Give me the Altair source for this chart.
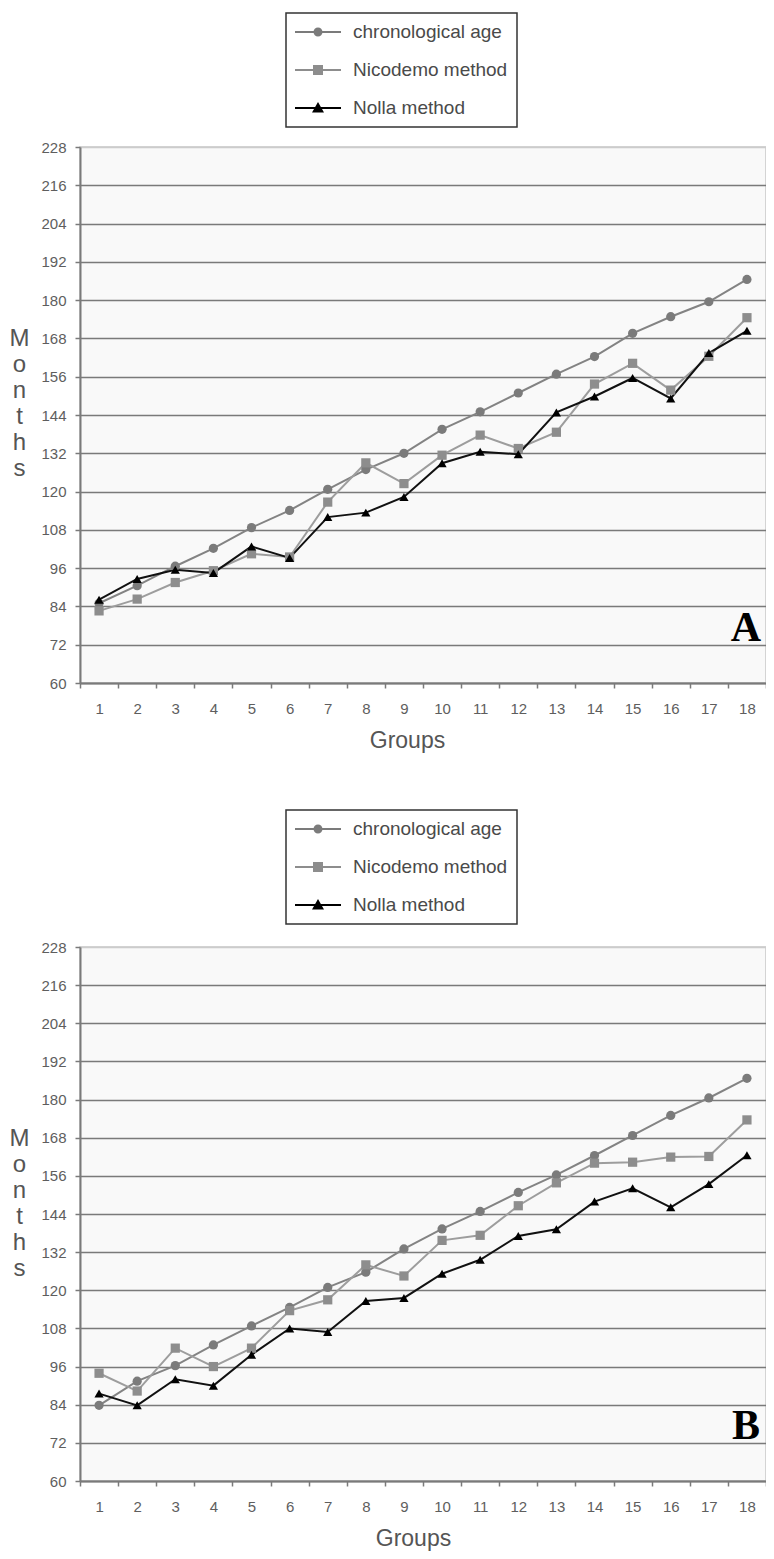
import altair as alt
import pandas as pd

# ---------------- data ----------------
GROUPS = list(range(1, 19))
SERIES = ["chronological age", "Nicodemo method", "Nolla method"]

A_CHRONO = [85.0, 90.5, 96.6, 102.2, 108.7, 114.1, 120.7, 126.9, 132.0, 139.5,
            145.0, 150.9, 156.8, 162.3, 169.6, 174.8, 179.5, 186.5]
A_NICODEMO = [82.6, 86.3, 91.5, 95.2, 100.5, 99.5, 116.7, 129.0, 122.5, 131.4,
              137.7, 133.5, 138.6, 153.7, 160.2, 151.8, 162.4, 174.5]
A_NOLLA = [86.1, 92.6, 95.5, 94.5, 102.8, 99.2, 112.0, 113.4, 118.3, 128.9,
           132.5, 131.7, 144.8, 149.8, 155.6, 149.2, 163.4, 170.4]

B_CHRONO = [83.8, 91.4, 96.3, 102.8, 108.8, 114.6, 120.9, 125.7, 133.0, 139.3,
            144.8, 150.8, 156.3, 162.4, 168.7, 175.0, 180.5, 186.7]
B_NICODEMO = [93.9, 88.3, 101.8, 96.0, 101.8, 113.6, 117.0, 128.0, 124.5, 135.7,
              137.3, 146.6, 153.8, 160.0, 160.3, 161.9, 162.1, 173.6]
B_NOLLA = [87.5, 83.8, 92.0, 90.0, 99.7, 108.0, 106.9, 116.6, 117.6, 125.2,
           129.6, 137.1, 139.2, 147.9, 152.1, 146.1, 153.4, 162.5]

Y_TICKS = [60, 72, 84, 96, 108, 120, 132, 144, 156, 168, 180, 192, 204, 216, 228]
PANEL_LABELS = ["A", "B"]
Y_TITLE = ["M", "o", "n", "t", "h", "s"]
X_TITLE = "Groups"

# ---------------- styles ----------------
FONT = "Liberation Sans"
LINE_COLORS = ["#838383", "#9d9d9d", "#111111"]
POINT_COLORS = ["#7b7b7b", "#8d8d8d", "#000000"]
SHAPES = ["circle", "square", "triangle-up"]

# legend symbols: a short line with the marker on it (unit coords, r = sqrt(size)/2 = 10px)
_LINE = "M-2.3,-0.1H2.3V0.1H-2.3Z"
LEGEND_PATHS = [
    _LINE + " M0.45,0A0.45,0.45 0 1,1 -0.45,0A0.45,0.45 0 1,1 0.45,0Z",
    _LINE + " M-0.5,-0.5H0.5V0.5H-0.5Z",
    _LINE + " M0,-0.6L0.6,0.45H-0.6Z",
]
SHAPE_EXPR = "'" + LEGEND_PATHS[-1] + "'"
for name, path in reversed(list(zip(SERIES[:-1], LEGEND_PATHS[:-1]))):
    SHAPE_EXPR = "datum.value === '" + name + "' ? '" + path + "' : (" + SHAPE_EXPR + ")"


def long_table(chrono, nico, nolla):
    rows = []
    for name, vals in zip(SERIES, [chrono, nico, nolla]):
        for g, v in zip(GROUPS, vals):
            rows.append({"series": name, "group": g, "months": v})
    return pd.DataFrame(rows)


def panel(df, label, w, h, lx, ly, ytx, yty, xtx, xty, tx, ty):
    x = alt.X(
        "group:O",
        title=X_TITLE,
        scale=alt.Scale(type="band", paddingInner=0, paddingOuter=0),
        axis=alt.Axis(
            tickBand="extent", labelAngle=0, grid=False,
            labelPadding=13, tickSize=5,
            titleX=xtx, titleY=xty, titleAlign="center", titleBaseline="alphabetic",
            titleFontSize=23,
        ),
    )
    y = alt.Y(
        "months:Q",
        title=Y_TITLE,
        scale=alt.Scale(domain=[60, 228], nice=False, zero=False),
        axis=alt.Axis(
            values=Y_TICKS, grid=True, labelPadding=9, tickSize=5,
            titleAngle=0, titleX=ytx, titleY=yty, titleAlign="center",
            titleBaseline="alphabetic", titleLineHeight=26, titleFontSize=24,
            gridColor={"condition": {"test": "datum.value === 228", "value": "#cccccc"},
                       "value": "#7a7a7a"},
        ),
    )
    legend = alt.Legend(
        title=None, orient="none", legendX=lx, legendY=ly, direction="vertical",
        labelFont=FONT, labelFontSize=19, labelColor="#4a4a4a", labelLimit=400,
        symbolType=alt.ExprRef(SHAPE_EXPR),
        symbolSize=400, symbolStrokeWidth=0, symbolOffset=13, labelOffset=25,
        rowPadding=18, padding=9, strokeColor="#333333", fillColor="#ffffff",
    )
    lines = alt.Chart(df).mark_line(strokeWidth=2).encode(
        x=x, y=y,
        stroke=alt.Stroke("series:N", sort=SERIES,
                          scale=alt.Scale(range=LINE_COLORS), legend=None),
    )
    points = alt.Chart(df).mark_point(filled=True, opacity=1, size=85).encode(
        x=x, y=y,
        color=alt.Color("series:N", scale=alt.Scale(domain=SERIES, range=POINT_COLORS),
                        legend=legend),
        shape=alt.Shape("series:N", sort=SERIES, scale=alt.Scale(range=SHAPES),
                        legend=None),
    )
    txt = alt.Chart(pd.DataFrame({"panel": [label]})).mark_text(
        align="right", baseline="alphabetic", font="Liberation Serif",
        fontWeight="bold", fontSize=42, color="#000000",
    ).encode(x=alt.value(tx), y=alt.value(ty), text="panel:N")
    return alt.layer(lines, points, txt).properties(width=w, height=h)


dfA = long_table(A_CHRONO, A_NICODEMO, A_NOLLA)
dfB = long_table(B_CHRONO, B_NICODEMO, B_NOLLA)

chartA = panel(dfA, PANEL_LABELS[0], 686, 536, 206, -134, -61, 198, 327, 64, 681, 494)
chartB = panel(dfB, PANEL_LABELS[1], 686, 534, 206, -137, -61, 198, 333, 64, 680, 492)

chart = (
    alt.vconcat(chartA, chartB, spacing=55)
    .resolve_legend(color="independent", shape="independent", stroke="independent")
    .properties(padding={"left": 0, "top": 3, "right": -2, "bottom": 0})
    .configure_view(fill="#f9f9f9", stroke="#c8c8c8", strokeWidth=1.5)
    .configure_legend(strokeWidth=1.5)
    .configure_axis(
        domainColor="#7a7a7a", domainWidth=2, tickColor="#7a7a7a", tickWidth=1.5,
        gridWidth=1.5, labelFont=FONT, labelFontSize=15, labelColor="#5e5e5e",
        titleFont=FONT, titleColor="#555555", titleFontWeight="normal",
    )
)

chart.save("out.html", embed_options={"renderer": "svg", "actions": False})
